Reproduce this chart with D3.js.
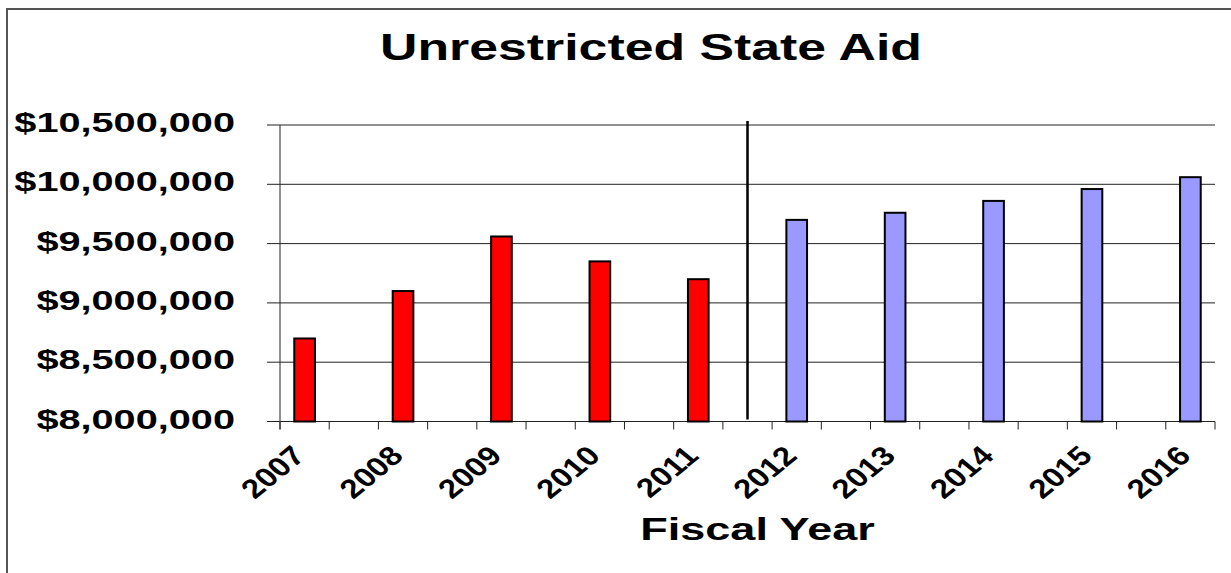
<!DOCTYPE html>
<html lang="en">
  <head>
    <meta charset="UTF-8">
    <title>Unrestricted State Aid</title>
    <style>
      body { margin: 0; background: #fff; }
      text { font-family: "Liberation Sans", Arial, sans-serif; font-weight: bold; fill: #000; }
    </style>
    <script src="https://d3js.org/d3.v7.min.js"></script>
  </head>
  <body>
    <script>
      // values
      var years = ["2007", "2008", "2009", "2010", "2011", "2012", "2013", "2014", "2015", "2016"];
      var aid = [8700000, 9100000, 9560000, 9350000, 9200000, 9700000, 9760000, 9860000, 9960000, 10060000];
      var lastActual = "2011";
      var yTicks = [8000000, 8500000, 9000000, 9500000, 10000000, 10500000];

      var width = 1231, height = 573;
      var plotLeft = 280, plotRight = 1215, plotTop = 125, plotBottom = 421.5;

      // every year gets an empty slot after it (except the last)
      var cats = [];
      years.forEach(function (y, i) {
        cats.push(y);
        if (i < years.length - 1) cats.push("gap" + i);
      });

      var x = d3.scaleBand().domain(cats).range([plotLeft, plotRight])
        .paddingInner(0.58).paddingOuter(0.29);
      var step = x.step();
      var y = d3.scaleLinear().domain([yTicks[0], yTicks[yTicks.length - 1]]).range([plotBottom, plotTop]);
      var fmt = d3.format("$,");

      var svg = d3.select("body").append("svg")
        .attr("width", width).attr("height", height);

      // frame (only top and left show)
      svg.append("path").attr("d", "M7,573V9H1231")
        .attr("fill", "none").attr("stroke", "#555").attr("stroke-width", 2);

      // gridlines + y ticks
      svg.selectAll(".grid").data(yTicks).enter().append("line")
        .attr("x1", plotLeft - 13).attr("x2", plotRight)
        .attr("y1", function (d) { return y(d); }).attr("y2", function (d) { return y(d); })
        .attr("stroke", "#222").attr("stroke-width", 1);

      // text in the original is stretched wide, hence the x scales
      svg.selectAll(".ylab").data(yTicks).enter().append("text")
        .attr("transform", function (d) { return "translate(235," + (y(d) + 7) + ") scale(1.47,1)"; })
        .attr("text-anchor", "end").style("font-size", "27px")
        .text(function (d) { return fmt(d); });

      // axes
      svg.append("line").attr("x1", plotLeft).attr("x2", plotLeft).attr("y1", plotTop).attr("y2", plotBottom + 8)
        .attr("stroke", "#222");
      svg.append("line").attr("x1", plotLeft).attr("x2", plotRight).attr("y1", plotBottom).attr("y2", plotBottom)
        .attr("stroke", "#222");
      var bounds = cats.map(function (c) { return x(c) - step * 0.29; });
      bounds.push(plotRight);
      svg.selectAll(".xt").data(bounds).enter().append("line")
        .attr("x1", function (d) { return d; }).attr("x2", function (d) { return d; })
        .attr("y1", plotBottom).attr("y2", plotBottom + 8)
        .attr("stroke", "#222");

      // bars
      var split = years.indexOf(lastActual);
      svg.selectAll(".bar").data(years).enter().append("rect")
        .attr("x", function (d) { return x(d); })
        .attr("width", x.bandwidth())
        .attr("y", function (d, i) { return y(aid[i]); })
        .attr("height", function (d, i) { return plotBottom - y(aid[i]); })
        .attr("fill", function (d, i) { return i <= split ? "#ff0000" : "#9999ff"; })
        .attr("stroke", "#000").attr("stroke-width", 2);

      // divider between actual and projected years
      var gx = x("gap" + split) + x.bandwidth() / 2;
      svg.append("line").attr("x1", gx).attr("x2", gx).attr("y1", plotTop - 4).attr("y2", plotBottom - 2)
        .attr("stroke", "#000").attr("stroke-width", 2.5);

      // x labels
      svg.selectAll(".xlab").data(years).enter().append("text")
        .attr("transform", function (d) {
          return "translate(" + (x(d) + x.bandwidth() / 2 + 2) + "," + (plotBottom + 36) + ") scale(1.22,1) rotate(-45)";
        })
        .attr("text-anchor", "end").style("font-size", "27px")
        .text(function (d) { return d; });

      // titles
      svg.append("text").attr("transform", "translate(651,60) scale(1.4,1)")
        .attr("text-anchor", "middle").style("font-size", "37px")
        .text("Unrestricted State Aid");
      svg.append("text").attr("transform", "translate(757.5,540) scale(1.43,1)")
        .attr("text-anchor", "middle").style("font-size", "31.5px")
        .text("Fiscal Year");
    </script>
  </body>
</html>
